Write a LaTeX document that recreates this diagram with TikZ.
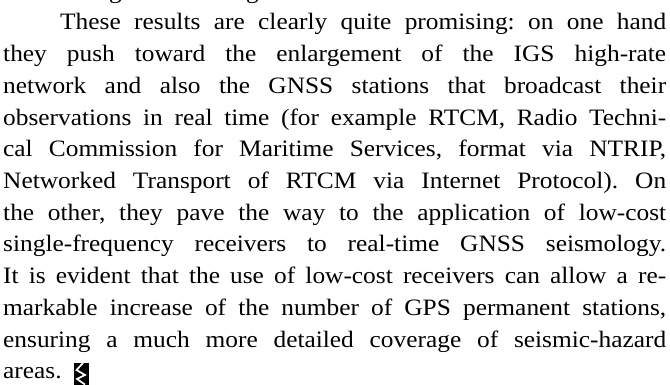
\documentclass[tikz,border=0pt]{standalone}
\usepackage{fontspec}
\setmainfont[FakeStretch=1.08]{Liberation Serif}
\usetikzlibrary{calc}
\begin{document}
\frenchspacing
\begin{tikzpicture}[x=1pt,y=-1pt,
  txtline/.style={anchor=base west, inner sep=0pt, font=\fontsize{23.5}{31.7}\selectfont},
  endmark/.style={fill=black, draw=none, inner sep=0pt, minimum width=15pt, minimum height=23pt, anchor=north west},
  zig/.style={white, line width=1.7pt, line join=miter}]
\useasboundingbox (0,0) rectangle (670,385);
\clip (0,0) rectangle (670,385);
% descenders of the previous (cut-off) line
\node[txtline] (g1) at (109,-1.7) {g};
\node[txtline] (g2) at (246,-1.7) {g};
% paragraph
\node[txtline] (l1) at (60,30.0) {\makebox[606pt][s]{These results are clearly quite promising: on one hand}};
\node[txtline] (l2) at (3,61.7) {\makebox[663pt][s]{they push toward the enlargement of the IGS high-rate}};
\node[txtline] (l3) at (3,93.4) {\makebox[663pt][s]{network and also the GNSS stations that broadcast their}};
\node[txtline] (l4) at (3,125.1) {\makebox[663pt][s]{observations in real time (for example RTCM, Radio Techni-}};
\node[txtline] (l5) at (3,156.8) {\makebox[663pt][s]{cal Commission for Maritime Services, format via NTRIP,}};
\node[txtline] (l6) at (3,188.5) {\makebox[663pt][s]{Networked Transport of RTCM via Internet Protocol). On}};
\node[txtline] (l7) at (3,220.2) {\makebox[663pt][s]{the other, they pave the way to the application of low-cost}};
\node[txtline] (l8) at (3,251.9) {\makebox[663pt][s]{single-frequency receivers to real-time GNSS seismology.}};
\node[txtline] (l9) at (3,283.6) {\makebox[663pt][s]{It is evident that the use of low-cost receivers can allow a re-}};
\node[txtline] (l10) at (3,315.3) {\makebox[663pt][s]{markable increase of the number of GPS permanent stations,}};
\node[txtline] (l11) at (3,347.0) {\makebox[663pt][s]{ensuring a much more detailed coverage of seismic-hazard}};
\node[txtline] (l12) at (3,378.7) {areas.};
% end-of-article mark
\node[endmark] (mark) at (74,363) {};
\draw[zig] ($(mark.north west)+(9,0)$) -- ($(mark.north west)+(2.5,7)$)
  -- ($(mark.north west)+(11,12)$) -- ($(mark.north west)+(3,16)$)
  -- ($(mark.north west)+(11,21.5)$);
\end{tikzpicture}
\end{document}
